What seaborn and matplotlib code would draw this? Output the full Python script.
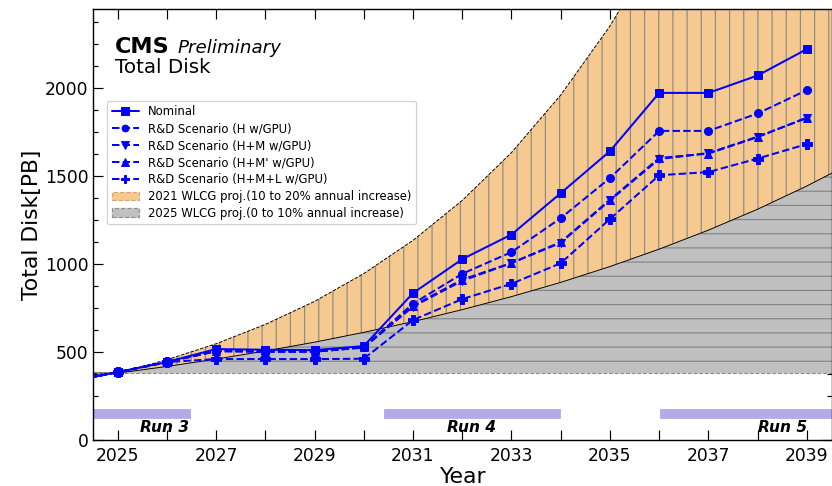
import matplotlib
matplotlib.use("Agg")
import matplotlib.pyplot as plt
import seaborn as sns
from matplotlib.patches import Patch
from matplotlib.ticker import MultipleLocator, AutoMinorLocator, FuncFormatter

# ---------------- data ----------------
years = [2024, 2025, 2026, 2027, 2028, 2029, 2030, 2031, 2032,
         2033, 2034, 2035, 2036, 2037, 2038, 2039]
nominal = [330, 386, 443, 517, 513, 511, 534, 835, 1028,
           1168, 1403, 1642, 1973, 1973, 2072, 2222]
rd_h = [330, 386, 443, 508, 505, 505, 528, 775, 945,
        1068, 1261, 1489, 1757, 1757, 1856, 1989]
rd_hm = [330, 386, 443, 505, 502, 502, 526, 758, 905,
         1006, 1121, 1362, 1597, 1631, 1724, 1830]
rd_hmp = [330, 386, 443, 505, 502, 502, 526, 763, 912,
          1006, 1125, 1366, 1603, 1628, 1722, 1833]
rd_hml = [330, 386, 443, 460, 460, 460, 462, 682, 801,
          888, 1005, 1256, 1505, 1523, 1600, 1682]

proj_years = [2024, 2025, 2026, 2027, 2028, 2029, 2030, 2031, 2032,
              2033, 2034, 2035, 2036, 2037, 2038, 2039, 2040]
wlcg21_hi = [380, 380, 456, 547, 657, 788, 946, 1135, 1362,
             1634, 1961, 2353, 2823, 3388, 4066, 4879, 5855]
wlcg21_lo = [380, 380, 418, 460, 506, 556, 612, 673, 741,
             815, 896, 986, 1085, 1193, 1312, 1444, 1588]
wlcg25_hi = wlcg21_lo
wlcg25_lo = [380, 380, 380, 380, 380, 380, 380, 380, 380,
             380, 380, 380, 380, 380, 380, 380, 380]

run_names = ["Run 3", "Run 4", "Run 5"]
run_start = [2024.0, 2030.4, 2036.0]
run_end = [2026.5, 2034.0, 2040.0]
run_label_x = [2025.45, 2031.7, 2038.0]

series_labels = ["Nominal", "R&D Scenario (H w/GPU)", "R&D Scenario (H+M w/GPU)",
                 "R&D Scenario (H+M' w/GPU)", "R&D Scenario (H+M+L w/GPU)"]
series_values = [nominal, rd_h, rd_hm, rd_hmp, rd_hml]
series_markers = ["s", "o", "v", "^", "P"]
series_styles = ["-", "--", "--", "--", "--"]
series_msize = [7.0, 6.8, 7.2, 7.2, 7.8]

# ---------------- style ----------------
sns.set_style("ticks")
plt.rcParams["font.family"] = ["DejaVu Sans"]
plt.rcParams["hatch.linewidth"] = 1.0
for k in ["text.color", "axes.labelcolor", "xtick.color", "ytick.color", "axes.edgecolor"]:
    plt.rcParams[k] = "black"

DPI = 85
fig = plt.figure(figsize=(832.01 / DPI, 486.01 / DPI), dpi=DPI)
ax = fig.add_axes([93 / 832, 46 / 486, (831.5 - 93) / 832, 431 / 486])

ORANGE = "#f5c98f"
GREY = "#c0c0c0"
BLUE = "#0000ff"

# projections
ax.fill_between(proj_years, wlcg21_lo, wlcg21_hi, facecolor=ORANGE,
                edgecolor="#8e8a84", hatch="|", linewidth=0, zorder=1)
ax.fill_between(proj_years, wlcg25_lo, wlcg25_hi, facecolor=GREY,
                edgecolor="#858585", hatch="-", linewidth=0, zorder=1)
ax.plot(proj_years, wlcg21_hi, color="black", ls="--", lw=0.8, zorder=2)
ax.plot(proj_years, wlcg21_lo, color="black", ls="-", lw=0.8, zorder=2)
ax.plot(proj_years, wlcg25_lo, color="#8c8c8c", ls="--", lw=0.9, zorder=2)

# run periods
ax.barh(y=151, width=[e - s for s, e in zip(run_start, run_end)], left=run_start,
        height=62, color="#b4aae8", zorder=2)
for name, xl in zip(run_names, run_label_x):
    ax.text(xl, 45, name, fontsize=13, fontweight="bold", fontstyle="italic",
            ha="left", va="baseline", zorder=3)

# series
for lab, vals, mk, ls, ms in zip(series_labels, series_values, series_markers,
                                 series_styles, series_msize):
    sns.lineplot(x=years, y=vals, ax=ax, color=BLUE, marker=mk, markersize=ms,
                 linestyle=ls, linewidth=1.7, markeredgecolor=BLUE,
                 markeredgewidth=0.8, label=lab, zorder=4)
line_handles = ax.get_lines()[-len(series_labels):]

# axes
ax.set_xlim(2024.5, 2039.5)
ax.set_ylim(0, 2450)
ax.xaxis.set_major_locator(MultipleLocator(1))
ax.xaxis.set_major_formatter(FuncFormatter(lambda v, p: f"{int(round(v))}" if int(round(v)) % 2 == 1 else ""))
ax.yaxis.set_major_locator(MultipleLocator(500))
ax.yaxis.set_minor_locator(AutoMinorLocator(4))
ax.tick_params(which="both", direction="in", top=True, right=True, width=1.0,
               color="black", labelcolor="black", labelsize=14.5)
ax.tick_params(axis="x", which="major", length=8.5, pad=6)
ax.tick_params(axis="y", which="major", length=8.5, pad=4)
ax.tick_params(axis="y", which="minor", length=4.2)
for sp in ax.spines.values():
    sp.set_color("black")
    sp.set_linewidth(1.2)
    sp.set_visible(True)

ax.set_xlabel("Year", fontsize=18.5, labelpad=2, color="black")
ax.set_ylabel("Total Disk[PB]", fontsize=18.5, labelpad=2, color="black")

# CMS labels
ax.text(0.0298, 0.899, "CMS", transform=ax.transAxes, fontsize=19,
        fontweight="bold", ha="left", va="baseline", color="black")
ax.text(0.114, 0.899, "Preliminary", transform=ax.transAxes, fontsize=15.5,
        fontstyle="italic", ha="left", va="baseline", color="black")
ax.text(0.0298, 0.851, "Total Disk", transform=ax.transAxes, fontsize=16.8,
        ha="left", va="baseline", color="black")

# legend
patch21 = Patch(facecolor=ORANGE, edgecolor="#d2a86e", linestyle="--", linewidth=1.0,
                label="2021 WLCG proj.(10 to 20% annual increase)")
patch25 = Patch(facecolor=GREY, edgecolor="#909090", linestyle="--", linewidth=1.0,
                label="2025 WLCG proj.(0 to 10% annual increase)")
handles = list(line_handles) + [patch21, patch25]
labels = series_labels + [patch21.get_label(), patch25.get_label()]
leg = ax.legend(handles, labels, loc="upper left", bbox_to_anchor=(0.019, 0.787),
                borderaxespad=0, fontsize=9.9, labelspacing=0.33, handlelength=2.3,
                frameon=True, fancybox=True, edgecolor="#cccccc", framealpha=0.9,
                markerscale=0.85)
for t in leg.get_texts():
    t.set_color("black")
leg.set_zorder(6)

fig.savefig("out.png", dpi=DPI)
